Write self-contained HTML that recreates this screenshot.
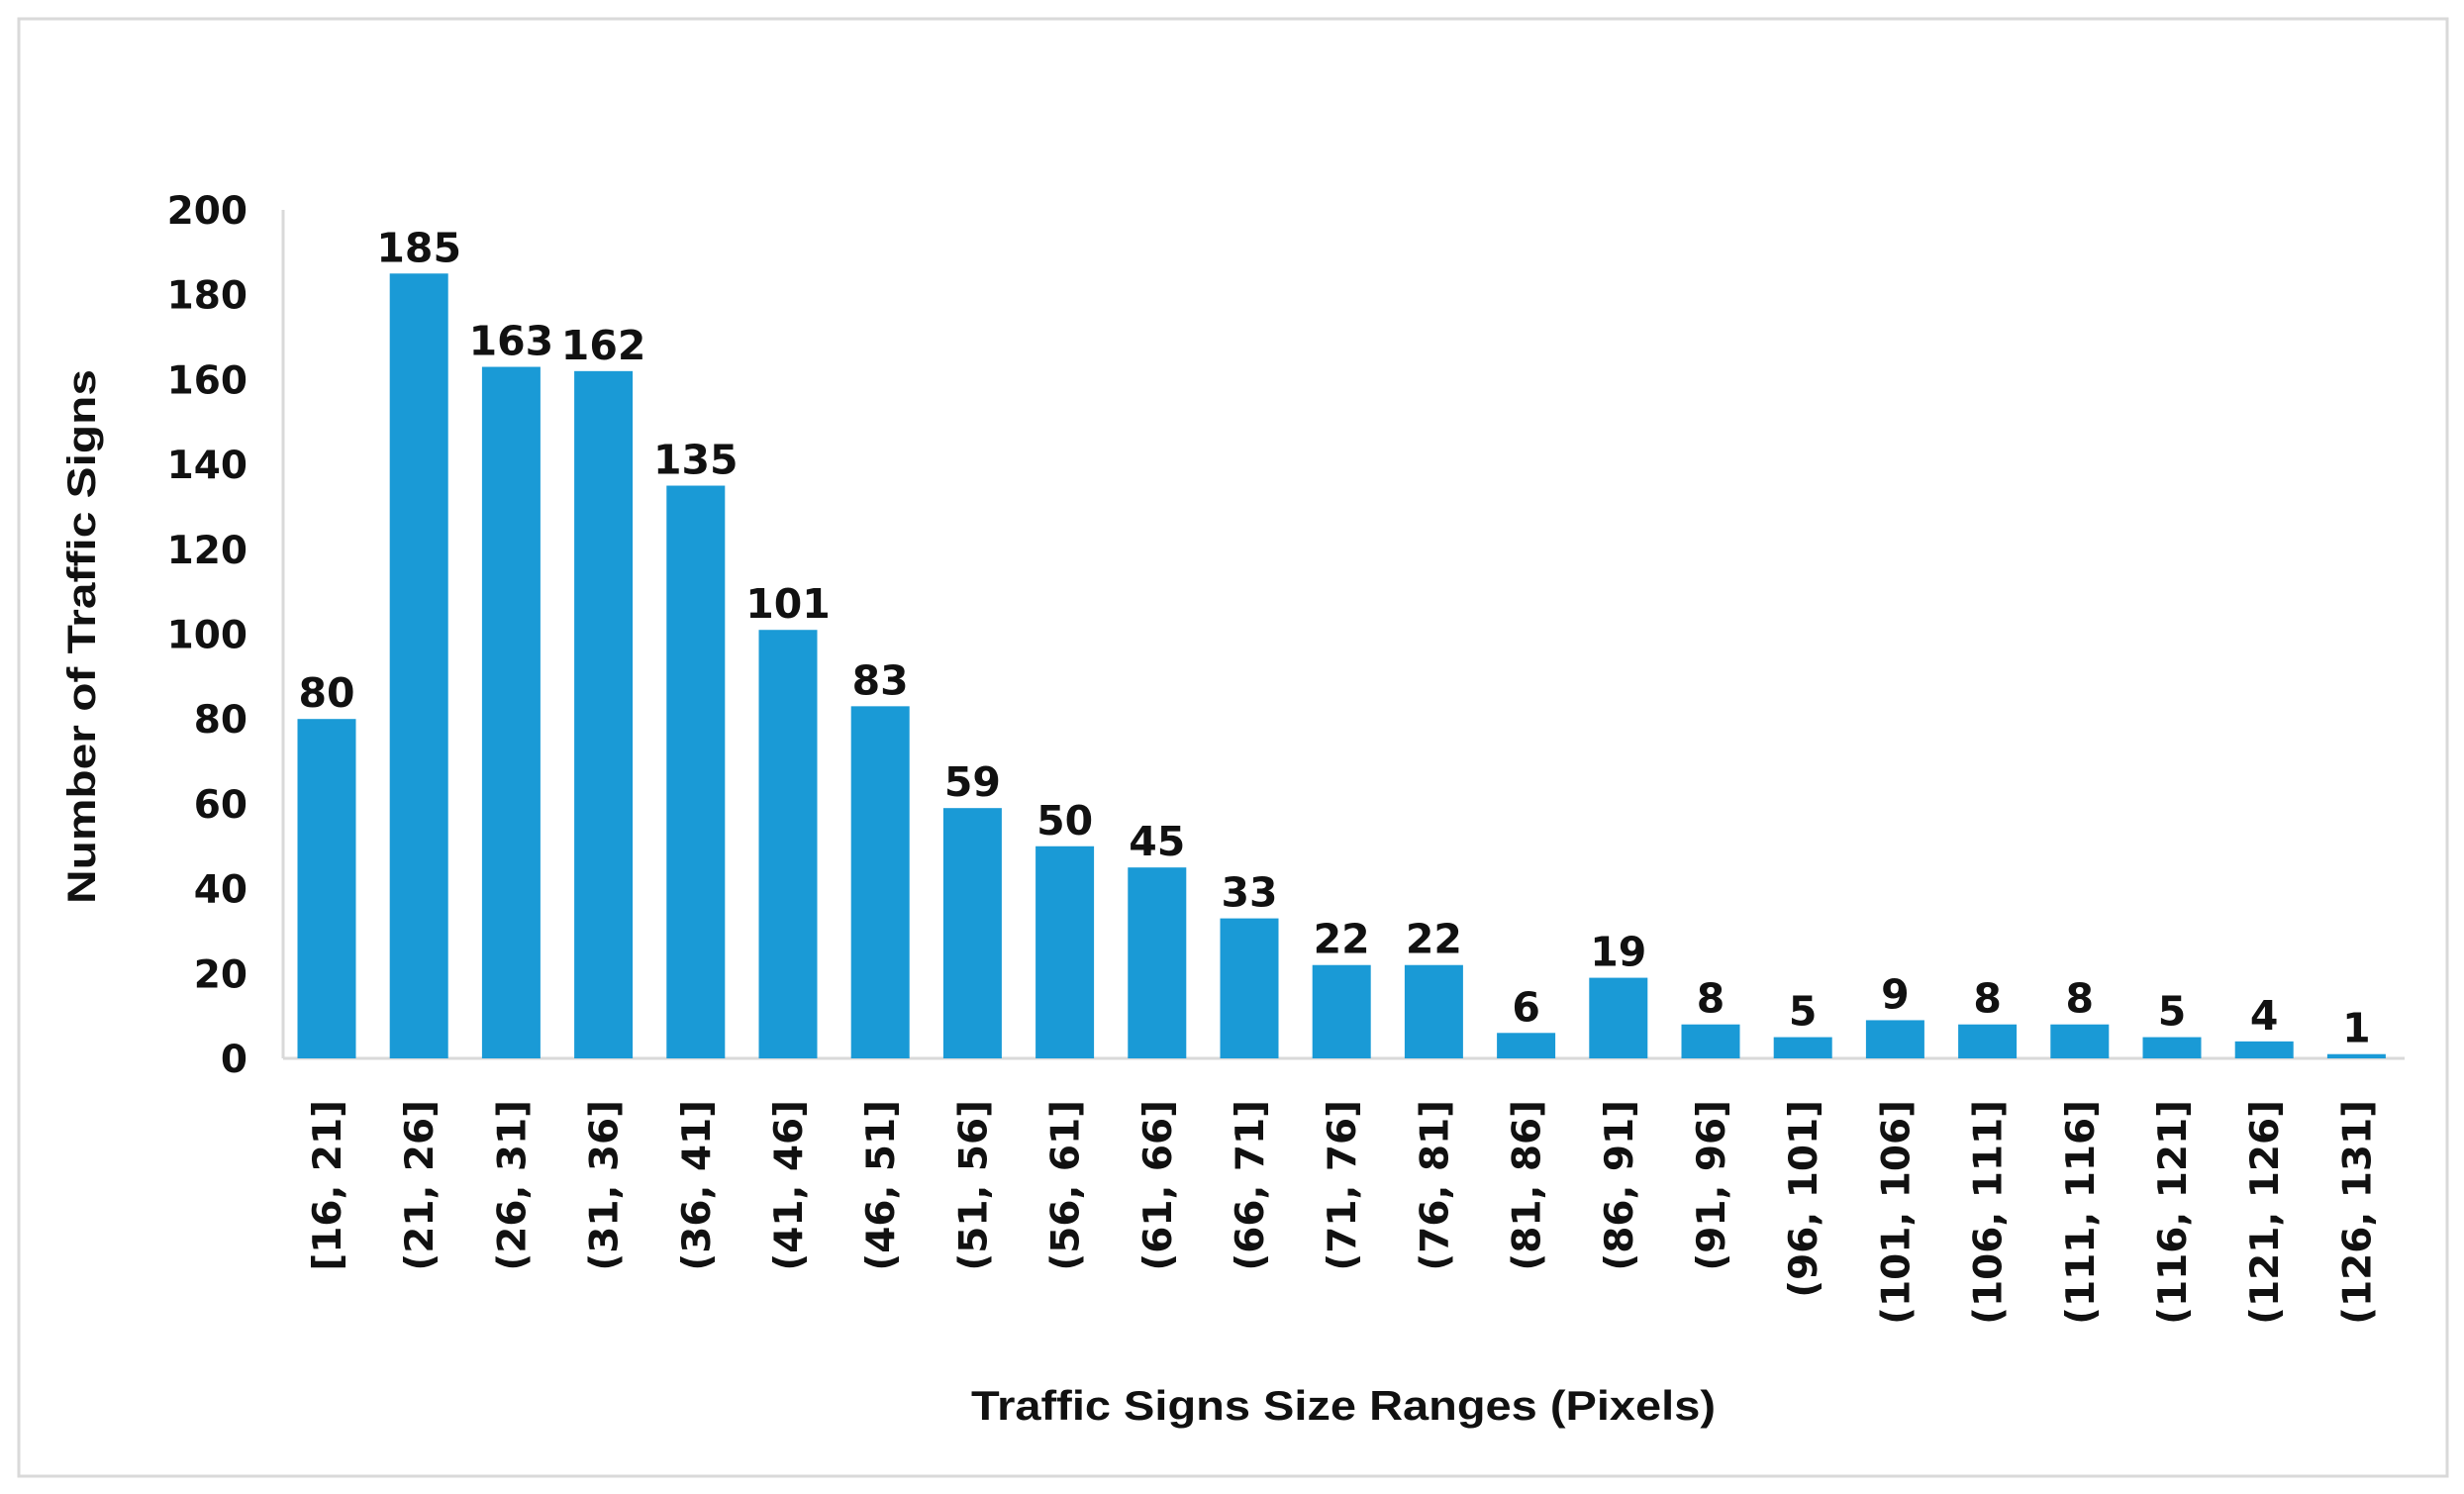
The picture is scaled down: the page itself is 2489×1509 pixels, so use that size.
<!DOCTYPE html>
<html><head><meta charset="utf-8"><style>
html,body{margin:0;padding:0;background:#fff;}
svg{display:block;}
text{font-family:"DejaVu Sans","Liberation Sans",sans-serif;font-weight:bold;fill:#111;}
</style></head><body>
<svg id="chart" width="2489" height="1509" viewBox="0 0 2489 1509" xmlns="http://www.w3.org/2000/svg">
<rect x="19" y="19" width="2453" height="1472" fill="#fff" stroke="#d9d9d9" stroke-width="3"/>
<g id="grid"></g>
<g id="bars"></g>
<g id="labels"></g>
<text transform="translate(96,643) rotate(-90)" text-anchor="middle" font-size="40" textLength="540" lengthAdjust="spacingAndGlyphs" style="font-family:'Liberation Sans',sans-serif">Number of Traffic Signs</text>
<text x="1357" y="1434" text-anchor="middle" font-size="42" textLength="752" lengthAdjust="spacingAndGlyphs" style="font-family:'Liberation Sans',sans-serif">Traffic Signs Size Ranges (Pixels)</text>
</svg>
<script>
const categories=["[16, 21]","(21, 26]","(26, 31]","(31, 36]","(36, 41]","(41, 46]","(46, 51]","(51, 56]","(56, 61]","(61, 66]","(66, 71]","(71, 76]","(76, 81]","(81, 86]","(86, 91]","(91, 96]","(96, 101]","(101, 106]","(106, 111]","(111, 116]","(116, 121]","(121, 126]","(126, 131]"];
const values=[80,185,163,162,135,101,83,59,50,45,33,22,22,6,19,8,5,9,8,8,5,4,1];
const yTicks=[0,20,40,60,80,100,120,140,160,180,200];
const NS="http://www.w3.org/2000/svg";
const y0=1069,yTop=212,yMax=200;
const x0=330,step=93.2,bw=59;
function yScale(v){return y0-(v/yMax)*(y0-yTop);}
function xScale(i){return x0+i*step;}
function mk(tag,attrs,parent){const e=document.createElementNS(NS,tag);for(const k in attrs)e.setAttribute(k,attrs[k]);parent.appendChild(e);return e;}
const grid=document.getElementById('grid'),bars=document.getElementById('bars'),labels=document.getElementById('labels');
const yAxis=mk('line',{x1:286,y1:yTop,x2:286,y2:y0,stroke:'#d9d9d9','stroke-width':3},grid);


const xAxis=mk('line',{x1:286,y1:y0,x2:2429,y2:y0,stroke:'#d9d9d9','stroke-width':3},grid);


yTicks.forEach(t=>{
  const e=mk('text',{x:250,y:yScale(t)+14,'text-anchor':'end','font-size':39},labels);
  e.textContent=t;
  
  
});
values.forEach((v,i)=>{
  const cx=xScale(i),top=yScale(v);
  const r=mk('rect',{x:cx-bw/2,y:top,width:bw,height:y0-top,fill:'#1a9ad6'},bars);
  
  
  const t=mk('text',{x:cx,y:top-12,'text-anchor':'middle','font-size':41},labels);
  t.textContent=v;
  
  
  const c=mk('text',{transform:'translate('+(cx+14)+',1111) rotate(-90)','text-anchor':'end','font-size':39},labels);
  c.textContent=categories[i];
  
  
});
</script>
</body></html>
